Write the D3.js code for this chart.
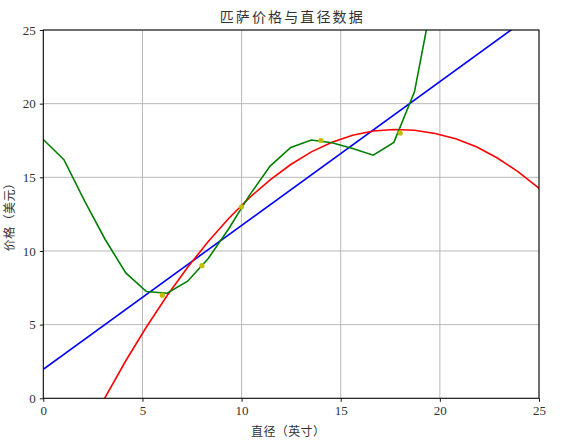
<!DOCTYPE html>
<html><head><meta charset="utf-8">
<script src="https://cdn.jsdelivr.net/npm/d3@7"></script>
<style>
html,body{margin:0;padding:0;background:#fff;}
svg{display:block;}
text{font-family:"Liberation Serif","Noto Sans CJK SC",serif;fill:#333;}
</style></head><body>
<div id="chart"></div>
<script>
// ---- data ----
const titleText = "匹萨价格与直径数据";
const xLabel = "直径（英寸）";
const yLabel = "价格（美元）";
const xTicks = [0, 5, 10, 15, 20, 25];
const yTicks = [0, 5, 10, 15, 20, 25];

// training points
const pointX = [6, 8, 10, 14, 18];
const pointY = [7, 9, 13, 17.5, 18];

// linear fit (blue)
const linX = [0, 25];
const linY = [1.97, 26.38];

// sample grid shared by the curves
const curveX = [0, 1.04, 2.08, 3.12, 4.16, 5.2, 6.24, 7.28, 8.32, 9.36, 10.4, 11.44, 12.48,
  13.52, 14.56, 15.6, 16.64, 17.68, 18.72, 19.76, 20.8, 21.84, 22.88, 23.92, 24.96, 26];
// quadratic fit (red)
const quadY = [-15.6, -11.8, -2.58, 0.07, 2.55, 4.84, 6.96, 8.89, 10.64, 12.22, 13.62, 14.83, 15.87,
  16.73, 17.38, 17.86, 18.14, 18.25, 18.2, 17.98, 17.62, 17.07, 16.33, 15.4, 14.3, 13.0];
// high-degree fit (green)
const polyY = [17.57, 16.2, 13.4, 10.78, 8.51, 7.25, 7.13, 7.95, 9.49, 11.53, 13.79, 15.76, 17.03,
  17.53, 17.35, 16.96, 16.5, 17.37, 20.8, 28.1, 40, 60, 90, 130, 180, 240];

// ---- layout ----
const W = 565, H = 441;
const m = {left: 43.3, right: 539, top: 30, bottom: 398.3};

const svg = d3.select("#chart").append("svg").attr("width", W).attr("height", H);

const x = d3.scaleLinear().domain([0, 25]).range([m.left, m.right]);
const y = d3.scaleLinear().domain([0, 25]).range([m.bottom, m.top]);

svg.append("defs").append("clipPath").attr("id", "clip")
  .append("rect").attr("x", m.left).attr("y", m.top)
  .attr("width", m.right - m.left).attr("height", m.bottom - m.top);

// grid
const grid = svg.append("g");
grid.selectAll(".gx").data(xTicks).join("line")
  .attr("x1", d => x(d)).attr("x2", d => x(d)).attr("y1", m.top).attr("y2", m.bottom)
  .attr("stroke", "#b0b0b0").attr("stroke-width", 0.9);
grid.selectAll(".gy").data(yTicks).join("line")
  .attr("y1", d => y(d)).attr("y2", d => y(d)).attr("x1", m.left).attr("x2", m.right)
  .attr("stroke", "#b0b0b0").attr("stroke-width", 0.9);

const plot = svg.append("g").attr("clip-path", "url(#clip)");

const line = d3.line().x(d => x(d[0])).y(d => y(d[1]));

plot.append("path").datum(linX.map((v, i) => [v, linY[i]]))
  .attr("d", line).attr("fill", "none").attr("stroke", "#0000ff").attr("stroke-width", 1.6);
plot.append("path").datum(curveX.map((v, i) => [v, quadY[i]]))
  .attr("d", line).attr("fill", "none").attr("stroke", "#ff0000").attr("stroke-width", 1.6);
plot.append("path").datum(curveX.map((v, i) => [v, polyY[i]]))
  .attr("d", line).attr("fill", "none").attr("stroke", "#008000").attr("stroke-width", 1.6);

plot.selectAll(".pt").data(pointX.map((v, i) => [v, pointY[i]])).join("circle")
  .attr("cx", d => x(d[0])).attr("cy", d => y(d[1])).attr("r", 2.6)
  .attr("fill", "#bfbf00");

// axes
const xAxis = d3.axisBottom(x).tickValues(xTicks).tickSize(3.5).tickPadding(4).tickFormat(d3.format("d"));
const yAxis = d3.axisLeft(y).tickValues(yTicks).tickSize(3.5).tickPadding(4).tickFormat(d3.format("d"));
const gx = svg.append("g").attr("transform", `translate(0,${m.bottom})`).call(xAxis);
const gy = svg.append("g").attr("transform", `translate(${m.left},0)`).call(yAxis);
[gx, gy].forEach(g => {
  g.select(".domain").remove();
  g.selectAll("line").attr("stroke", "#000").attr("stroke-width", 0.9);
  g.selectAll("text").style("font-size", "13px").attr("fill", "#333");
});

// frame
svg.append("rect").attr("x", m.left).attr("y", m.top)
  .attr("width", m.right - m.left).attr("height", m.bottom - m.top)
  .attr("fill", "none").attr("stroke", "#000").attr("stroke-width", 1);

// labels
svg.append("text").attr("x", (m.left + m.right) / 2).attr("y", 22)
  .attr("text-anchor", "middle").style("font-size", "14px")
  .attr("textLength", 143).attr("lengthAdjust", "spacing").text(titleText);
svg.append("text").attr("x", 288).attr("y", 436)
  .attr("text-anchor", "middle").style("font-size", "12px")
  .attr("textLength", 74).attr("lengthAdjust", "spacing").text(xLabel);
svg.append("text").attr("transform", `translate(14,${(m.top + m.bottom) / 2}) rotate(-90)`)
  .attr("text-anchor", "middle").style("font-size", "12px")
  .attr("textLength", 74).attr("lengthAdjust", "spacing").text(yLabel);
</script>
</body></html>
